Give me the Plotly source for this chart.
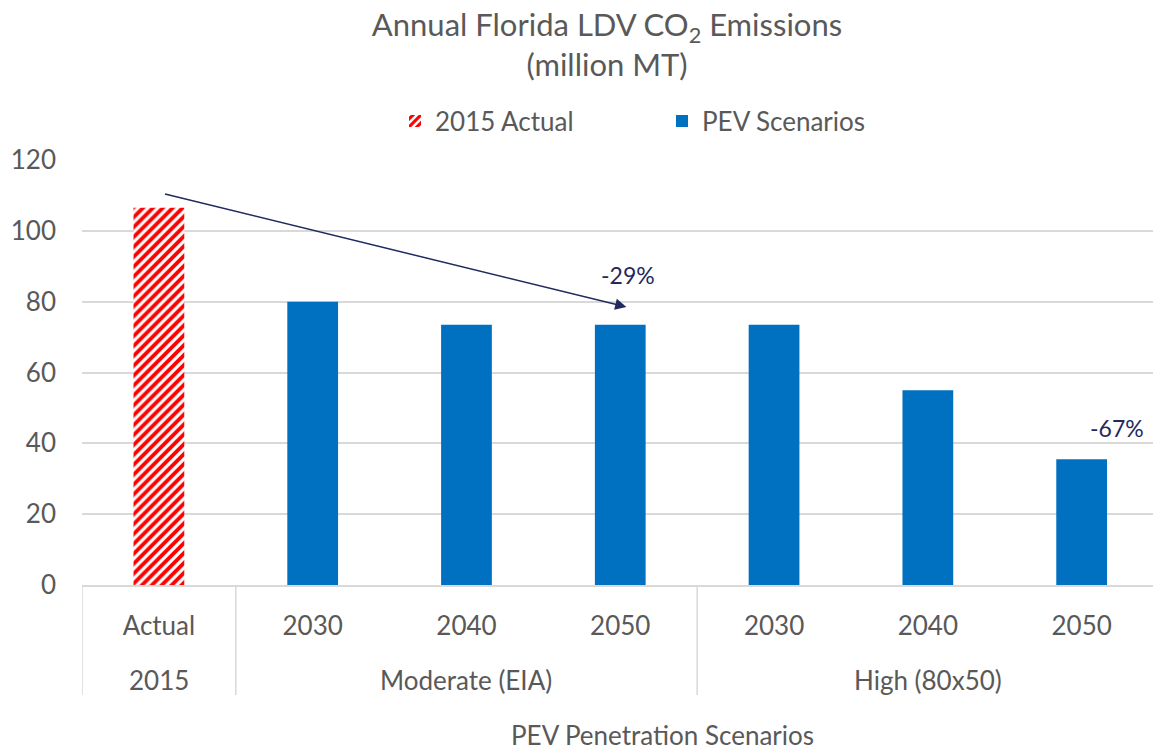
import plotly.graph_objects as go

groups = ["2015", "Moderate (EIA)", "Moderate (EIA)", "Moderate (EIA)",
          "High (80x50)", "High (80x50)", "High (80x50)"]
years = ["Actual", "2030", "2040", "2050", "2030", "2040", "2050"]
emissions = [106.5, 80.0, 73.5, 73.5, 73.5, 55.0, 35.5]
series = ["2015 Actual", "PEV Scenarios", "PEV Scenarios", "PEV Scenarios",
          "PEV Scenarios", "PEV Scenarios", "PEV Scenarios"]

pos = list(range(len(years)))
grey = "#595959"
navy = "#1F2A5E"
line_grey = "#D9D9D9"
font = "Lato"

# plot area in pixels: left 82, bottom 585, height 425, width 1071
def py(px):
    return (585 - px) / 425

def px_(x):
    return (x - 82) / 1071

fig = go.Figure()

for name in ["2015 Actual", "PEV Scenarios"]:
    idx = [i for i, s in enumerate(series) if s == name]
    if name == "2015 Actual":
        marker = dict(color="white", line=dict(width=0),
                      pattern=dict(shape="/", fgcolor="#FF0000", bgcolor="white",
                                   fgopacity=1, size=7, solidity=0.55))
    else:
        marker = dict(color="#0070C0", line=dict(width=0))
    fig.add_trace(go.Bar(
        name=name,
        x=[pos[i] for i in idx],
        y=[emissions[i] for i in idx],
        width=0.33,
        marker=marker,
    ))

# group labels and dividers under the year labels
bounds = [-0.5]
for i in range(1, len(groups)):
    if groups[i] != groups[i - 1]:
        bounds.append(i - 0.5)
bounds.append(len(groups) - 0.5)

for b in bounds:
    fig.add_shape(type="line", xref="x", yref="paper", x0=b, x1=b,
                  y0=0, y1=py(695), line=dict(color=line_grey, width=1.5))

for k in range(len(bounds) - 1):
    mid = (bounds[k] + bounds[k + 1]) / 2
    first = int(bounds[k] + 0.5)
    fig.add_annotation(xref="x", yref="paper", x=mid, y=py(680),
                       xanchor="center", yanchor="middle",
                       text=groups[first], showarrow=False,
                       font=dict(size=26, color=grey, family=font))

fig.add_annotation(xref="paper", yref="paper", x=px_(662), y=py(735),
                   xanchor="center", yanchor="middle",
                   text="PEV Penetration Scenarios", showarrow=False,
                   font=dict(size=26, color=grey, family=font))

# arrow from the 2015 bar to Moderate 2050, with change labels
fig.add_annotation(
    xref="x", yref="y", axref="x", ayref="y",
    x=3.04, y=78.5, ax=0.03, ay=110.5,
    text="", showarrow=True, arrowhead=2, arrowsize=1.5,
    arrowwidth=1.5, arrowcolor=navy,
)
fig.add_annotation(xref="x", yref="y", x=3.05, y=87.5, text="-29%",
                   showarrow=False, font=dict(size=23, color=navy, family=font))
fig.add_annotation(xref="x", yref="y", x=6.23, y=44.3, text="-67%",
                   showarrow=False, font=dict(size=23, color=navy, family=font))

fig.update_layout(
    width=1153, height=751,
    margin=dict(l=82, r=0, t=160, b=166, autoexpand=False),
    paper_bgcolor="white", plot_bgcolor="white",
    barmode="overlay",
    font=dict(family=font, size=26, color=grey),
    title=dict(
        text="Annual Florida LDV CO<sub>2</sub> Emissions<br>(million MT)",
        x=607 / 1153, xanchor="center", y=0.952, yanchor="top",
        font=dict(size=31, color=grey, family=font),
    ),
    legend=dict(
        orientation="h", x=px_(395), xanchor="left",
        y=py(121), yanchor="middle",
        font=dict(size=26, color=grey), itemwidth=30,
        entrywidthmode="pixels", entrywidth=222,
    ),
    yaxis=dict(
        range=[0, 120], tickvals=[0, 20, 40, 60, 80, 100, 120],
        showgrid=True, gridcolor=line_grey, gridwidth=1.5,
        zeroline=False, showline=False, ticks="", automargin=False,
        tickfont=dict(size=26, color=grey), ticklabelstandoff=25,
    ),
    xaxis=dict(
        range=[-0.5, 6.464], tickvals=pos, ticktext=years,
        showgrid=False, zeroline=False,
        showline=True, linecolor=line_grey, linewidth=1.5,
        ticks="", automargin=False,
        tickfont=dict(size=26, color=grey), ticklabelstandoff=17,
    ),
)

# drop the browser's default 8px body margin so the figure fills the window
fig.write_html("out.html", config={"displayModeBar": False},
               post_script="document.body.style.margin='0px';")
